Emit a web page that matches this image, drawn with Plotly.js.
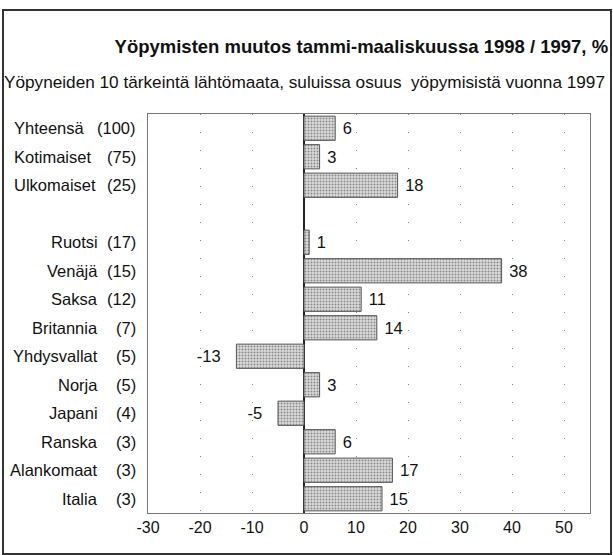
<!DOCTYPE html>
<html>
<head>
<meta charset="utf-8">
<script src="https://cdn.plot.ly/plotly-3.0.1.min.js"></script>
<style>
  html, body { margin: 0; padding: 0; background: #fff; }
  #wrap { position: relative; width: 613px; height: 555px; }
  #chart { width: 613px; height: 555px; }
  #frame { position: absolute; left: 2px; top: 9px; width: 606px; height: 542px; border: 2px solid #333; pointer-events: none; }
</style>
</head>
<body>
<div id="wrap">
  <div id="chart"></div>
  <div id="frame"></div>
</div>
<script>
const titleText = 'Yöpymisten muutos tammi-maaliskuussa 1998 / 1997, %';
const subtitleText = 'Yöpyneiden 10 tärkeintä lähtömaata, suluissa osuus  yöpymisistä vuonna 1997';
const categories = ['Yhteensä', 'Kotimaiset', 'Ulkomaiset', '', 'Ruotsi', 'Venäjä', 'Saksa', 'Britannia', 'Yhdysvallat', 'Norja', 'Japani', 'Ranska', 'Alankomaat', 'Italia'];
const shares = ['(100)', '(75)', '(25)', '', '(17)', '(15)', '(12)', '(7)', '(5)', '(5)', '(4)', '(3)', '(3)', '(3)'];
const values = [6, 3, 18, null, 1, 38, 11, 14, -13, 3, -5, 6, 17, 15];
const tickVals = [-30, -20, -10, 0, 10, 20, 30, 40, 50];
const tickText = ['-30', '-20', '-10', '0', '10', '20', '30', '40', '50'];

const FONT = '"Liberation Sans", Arial, sans-serif';
const idx = categories.map((c, i) => i);
const labels = values.map(v => v === null ? '' : (v > 0 ? ' ' + v : v + '\u2002 '));

const trace = {
  type: 'bar',
  orientation: 'h',
  x: values,
  y: idx,
  width: 0.85,
  text: labels,
  textposition: 'outside',
  cliponaxis: false,
  textfont: { family: FONT, size: 16.5, color: '#111' },
  marker: {
    color: '#d6d6d6',
    line: { color: '#555', width: 1 },
    pattern: { shape: '.', fgcolor: '#8a8a8a', bgcolor: '#dcdcdc', size: 3, solidity: 0.35 }
  },
  hoverinfo: 'skip'
};

const annotations = [];
categories.forEach((c, i) => {
  if (!c) return;
  const top = i < 3;
  annotations.push({
    xref: 'paper', yref: 'y', x: 0, y: i,
    xshift: top ? -136 : -48,
    xanchor: top ? 'left' : 'right', yanchor: 'middle',
    text: c, showarrow: false,
    font: { family: FONT, size: 16.5, color: '#111' }
  });
  annotations.push({
    xref: 'paper', yref: 'y', x: 0, y: i,
    xshift: -10,
    xanchor: 'right', yanchor: 'middle',
    text: shares[i], showarrow: false,
    font: { family: FONT, size: 16.5, color: '#111' }
  });
});
annotations.push({
  xref: 'paper', yref: 'paper', x: 0, y: 1, xshift: -146, yshift: 32,
  xanchor: 'left', yanchor: 'middle', text: subtitleText, showarrow: false,
  font: { family: FONT, size: 17.2, color: '#111' }
});

const layout = {
  width: 613, height: 555,
  margin: { l: 148, r: 23, t: 114, b: 42 },
  paper_bgcolor: '#fff', plot_bgcolor: '#fff',
  showlegend: false,
  title: {
    text: '<b>' + titleText + '</b>',
    x: 0.992, xanchor: 'right', xref: 'container',
    y: 1 - 47 / 555, yanchor: 'middle',
    font: { family: FONT, size: 18.5, color: '#111' }
  },
  xaxis: {
    range: [-30, 55],
    tickvals: tickVals, ticktext: tickText,
    tickfont: { family: FONT, size: 16, color: '#111' },
    ticks: '', ticklen: 0,
    showgrid: true, gridcolor: '#888', gridwidth: 1, griddash: '1px,17px',
    zeroline: true, zerolinecolor: '#222', zerolinewidth: 1.5,
    showline: true, linecolor: '#777', linewidth: 1, mirror: true
  },
  yaxis: {
    range: [13.5, -0.5],
    showticklabels: false, ticks: '',
    showgrid: false, zeroline: false,
    showline: true, linecolor: '#777', linewidth: 1, mirror: true
  },
  annotations: annotations
};

Plotly.newPlot('chart', [trace], layout, { staticPlot: true, displayModeBar: false });
</script>
</body>
</html>
